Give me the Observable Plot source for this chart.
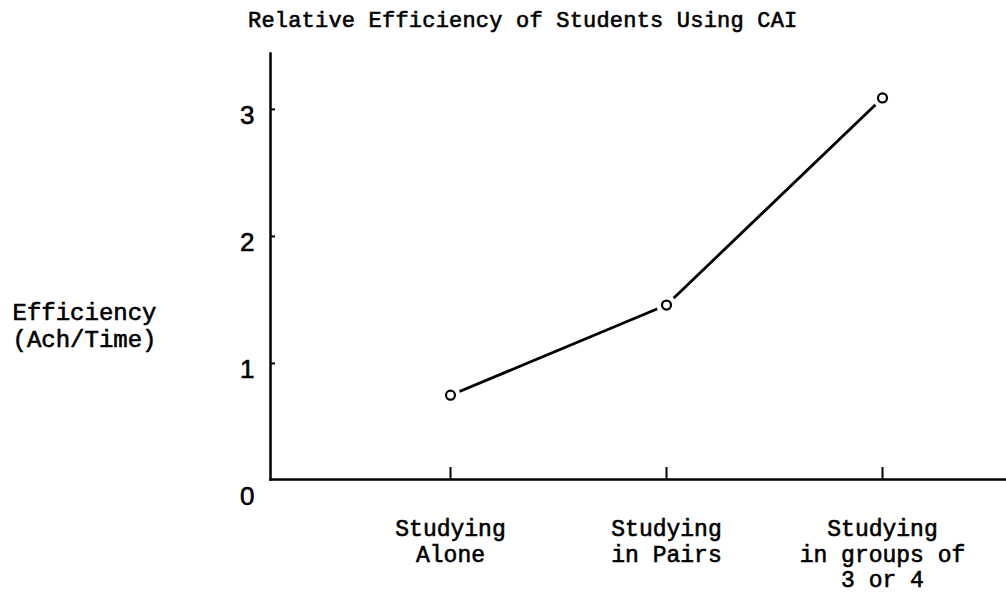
<!DOCTYPE html>
<html>
<head>
<meta charset="utf-8">
<script src="https://cdn.jsdelivr.net/npm/d3@7"></script>
<script src="https://cdn.jsdelivr.net/npm/@observablehq/plot@0.6"></script>
<style>
  html, body { margin: 0; padding: 0; background: #fff; }
  #wrap { position: relative; width: 1006px; height: 602px; overflow: hidden; }
  #title { position: absolute; left: 248px; top: 11px; font: 22px/1 "Liberation Mono", monospace; color: #000; white-space: pre; letter-spacing: 0.2px; -webkit-text-stroke: 0.6px #000; }
  #chart { position: absolute; left: 0; top: 44px; }
  #chart svg text { stroke: #000; stroke-width: 0.6px; }
</style>
</head>
<body>
<div id="wrap">
  <div id="title"></div>
  <div id="chart"></div>
</div>
<script>
const titleText = "Relative Efficiency of Students Using CAI";
const yLabel = "Efficiency\n(Ach/Time)";
const categories = ["Studying\nAlone", "Studying\nin Pairs", "Studying\nin groups of\n3 or 4"];
const efficiency = [0.75, 1.46, 3.09];
const yTickLabels = [0, 1, 2, 3];
const yTickMarks = [1, 2, 3];

document.getElementById("title").textContent = titleText;

const data = categories.map((c, i) => ({group: c, value: efficiency[i]}));
const mono = "'Liberation Mono', monospace";

const chart = Plot.plot({
  width: 1006,
  height: 558,
  marginTop: 9,
  marginLeft: 270,
  marginRight: 0,
  marginBottom: 123,
  x: {type: "point", domain: categories, range: [450, 882], padding: 0, label: null},
  y: {domain: [0, 3.44], range: [446, 9], label: null},
  style: {background: "white", color: "black", fontFamily: mono},
  marks: [
    Plot.frame({anchor: "left", strokeWidth: 2.5}),
    Plot.frame({anchor: "bottom", strokeWidth: 2.5}),
    Plot.axisX({tickSize: -12, strokeWidth: 2, text: null, label: null}),
    Plot.axisX({tickSize: 0, tickPadding: 39, fontSize: 23, lineHeight: 1.1, fontFamily: mono, textAnchor: "middle", label: null}),
    Plot.axisY({ticks: yTickMarks, tickSize: -5, strokeWidth: 2, text: null, label: null}),
    Plot.axisY({ticks: yTickLabels, tickSize: 0, tickPadding: 16, dy: 6, fontSize: 26, fontFamily: "'Liberation Sans', sans-serif", tickFormat: d => String(d), label: null}),
    Plot.line(data, {x: "group", y: "value", stroke: "black", strokeWidth: 2.8}),
    Plot.dot(data, {x: "group", y: "value", r: 10, fill: "white", stroke: null}),
    Plot.dot(data, {x: "group", y: "value", r: 4.5, fill: "white", stroke: "black", strokeWidth: 2.2}),
    Plot.text([yLabel], {frameAnchor: "left", textAnchor: "start", dx: -258, dy: 58, fontSize: 24, lineHeight: 1.12, fontFamily: mono, fill: "black"})
  ]
});
document.getElementById("chart").appendChild(chart);
</script>
</body>
</html>
